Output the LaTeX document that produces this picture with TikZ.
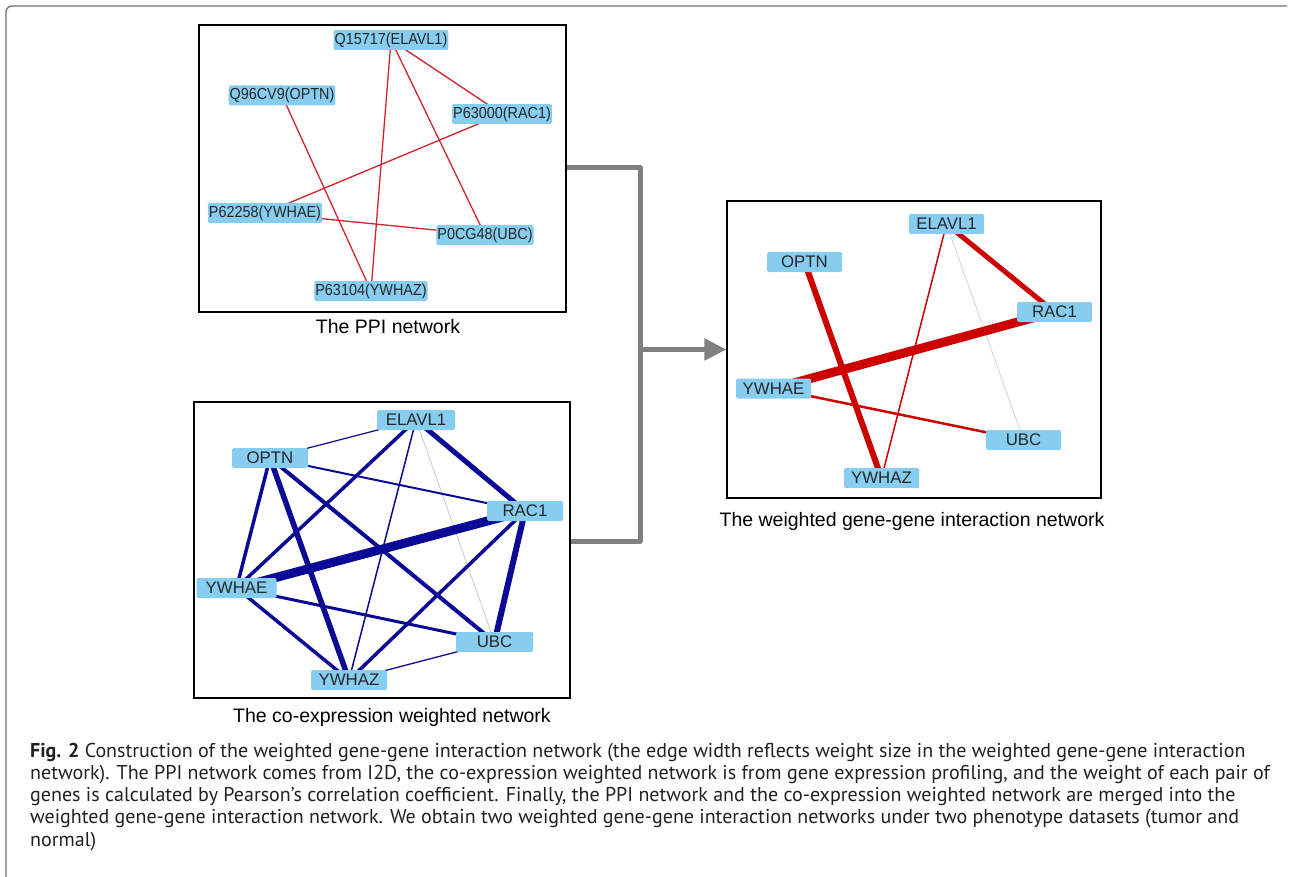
\documentclass[tikz,border=0pt]{standalone}
\usepackage{fontspec}
\setmainfont{Liberation Sans}
\newfontfamily\capfont{PT Sans}
\usetikzlibrary{arrows.meta}
\pgfdeclarelayer{bg}
\pgfsetlayers{bg,main}
\definecolor{nodeblue}{RGB}{135,205,240}
\definecolor{ppired}{RGB}{210,35,45}
\definecolor{wred}{RGB}{205,0,0}
\definecolor{coblue}{RGB}{10,10,150}
\definecolor{faint}{RGB}{205,205,205}
\definecolor{faintpink}{RGB}{228,212,212}
\definecolor{connGray}{RGB}{128,128,128}
\definecolor{frameGray}{RGB}{110,110,110}
\definecolor{captext}{RGB}{35,31,32}
\newcommand{\plab}[1]{\scalebox{0.9}[1]{#1}}
\tikzset{
 gnode/.style={fill=nodeblue, rounded corners=1.5pt, inner sep=0pt, minimum height=20pt, minimum width=76pt, text=black!85, font=\fontsize{16.8}{16.8}\selectfont},
 pnode/.style={fill=nodeblue, rounded corners=1.5pt, inner ysep=0pt, inner xsep=1pt, minimum height=20pt, text=black!85, font=\fontsize{16}{16}\selectfont},
 panel/.style={draw=black, line width=1.2pt, inner sep=0pt},
 ptitle/.style={font=\fontsize{19.5}{19.5}\selectfont, anchor=base, inner sep=0pt},
 capline/.style={font=\capfont\fontsize{20}{22.3}\selectfont, text=captext, anchor=base west, inner sep=0pt},
 conn/.style={draw=connGray, line width=5pt, line join=round},
 pe/.style={draw=ppired, line width=1.3pt},
 be/.style={draw=coblue, line width=#1},
 re/.style={draw=wred, line width=#1},
}
\begin{document}
\begin{tikzpicture}[x=1pt,y=-1pt]
\useasboundingbox (0,0) rectangle (1289,877);
% outer frame
\draw[frameGray, line width=1.3pt, rounded corners=6pt] (6,877) -- (6,6) -- (1287,6);

% panels
\node[panel, minimum width=367pt, minimum height=287pt] (ppibox) at (382.5,168.5) {};
\node[panel, minimum width=376pt, minimum height=296pt] (coexbox) at (382,550) {};
\node[panel, minimum width=374pt, minimum height=297pt] (wbox) at (914,349.5) {};

\node[ptitle] (ppititle) at (388,333) {The PPI network};
\node[ptitle] (cotitle) at (392,722) {The co-expression weighted network};
\node[ptitle] (wtitle) at (912,526) {The weighted gene-gene interaction network};

% PPI nodes
\node[pnode] (p1) at (391,40) {\plab{Q15717(ELAVL1)}};
\node[pnode] (p2) at (282,95.5) {\plab{Q96CV9(OPTN)}};
\node[pnode] (p3) at (502,114) {\plab{P63000(RAC1)}};
\node[pnode] (p4) at (265,213) {\plab{P62258(YWHAE)}};
\node[pnode] (p5) at (485,235) {\plab{P0CG48(UBC)}};
\node[pnode] (p6) at (371,291) {\plab{P63104(YWHAZ)}};

% co-expression nodes
\node[gnode, minimum width=78pt] (c1) at (416,420) {ELAVL1};
\node[gnode] (c2) at (270,458) {OPTN};
\node[gnode] (c3) at (525,511) {RAC1};
\node[gnode, minimum width=80pt] (c4) at (236.5,588) {YWHAE};
\node[gnode, minimum width=77pt] (c5) at (494.5,642) {UBC};
\node[gnode] (c6) at (349,680) {YWHAZ};

% weighted nodes
\node[gnode, minimum width=75pt] (w1) at (946.5,224) {ELAVL1};
\node[gnode, minimum width=75pt] (w2) at (804.5,262) {OPTN};
\node[gnode, minimum width=75pt] (w3) at (1054.5,312) {RAC1};
\node[gnode, minimum width=75pt] (w4) at (773.5,388.5) {YWHAE};
\node[gnode, minimum width=75pt] (w5) at (1023.5,440) {UBC};
\node[gnode, minimum width=75pt] (w6) at (881.5,478) {YWHAZ};

\begin{pgfonlayer}{bg}
% PPI edges
\draw[pe] (p1.center) -- (p6.center);
\draw[pe] (p1.center) -- (p5.center);
\draw[pe] (p1.center) -- (p3.center);
\draw[pe] (p2.center) -- (p6.center);
\draw[pe] (p3.center) -- (p4.center);
\draw[pe] (p4.center) -- (p5.center);
% co-expression edges
\draw[be=1.2pt] (c1.center) -- (c2.center);
\draw[be=3.5pt] (c1.center) -- (c4.center);
\draw[be=1.5pt] (c1.center) -- (c6.center);
\draw[draw=faint, line width=0.9pt] (c1.center) -- (c5.center);
\draw[be=5pt] (c1.center) -- (c3.center);
\draw[be=2pt] (c2.center) -- (c3.center);
\draw[be=3.5pt] (c2.center) -- (c4.center);
\draw[be=5.5pt] (c2.center) -- (c6.center);
\draw[be=4pt] (c2.center) -- (c5.center);
\draw[be=9pt] (c3.center) -- (c4.center);
\draw[be=6pt] (c3.center) -- (c5.center);
\draw[be=3.5pt] (c3.center) -- (c6.center);
\draw[be=3pt] (c4.center) -- (c5.center);
\draw[be=3.5pt] (c4.center) -- (c6.center);
\draw[be=1.3pt] (c5.center) -- (c6.center);
% weighted edges
\draw[re=5pt] (w1.center) -- (w3.center);
\draw[re=1.5pt] (w1.center) -- (w6.center);
\draw[draw=faintpink, line width=1pt] (w1.center) -- (w5.center);
\draw[re=6pt] (w2.center) -- (w6.center);
\draw[re=9pt] (w3.center) -- (w4.center);
\draw[re=2.5pt] (w4.center) -- (w5.center);
\end{pgfonlayer}

% merge connector
\coordinate (ppiout) at (ppibox.east |- 0,168);
\coordinate (coexout) at (coexbox.east |- 0,541);
\coordinate (jtop) at (640,168);
\coordinate (jbot) at (640,541);
\coordinate (junction) at (640,349.5);
\draw[conn] (ppiout) -- (jtop) -- (jbot) -- (coexout);
\draw[conn, -{Triangle[length=22pt, width=21pt]}] (junction) -- (wbox.west);

% caption
\node[capline] (cap1) at (30,757) {\textbf{Fig. 2} Construction of the weighted gene-gene interaction network (the edge width reflects weight size in the weighted gene-gene interaction};
\node[capline] (cap2) at (30,779.3) {network). The PPI network comes from I2D, the co-expression weighted network is from gene expression profiling, and the weight of each pair of};
\node[capline] (cap3) at (30,801.6) {genes is calculated by Pearson’s correlation coefficient. Finally, the PPI network and the co-expression weighted network are merged into the};
\node[capline] (cap4) at (30,823.9) {weighted gene-gene interaction network. We obtain two weighted gene-gene interaction networks under two phenotype datasets (tumor and};
\node[capline] (cap5) at (30,846.2) {normal)};
\end{tikzpicture}
\end{document}
